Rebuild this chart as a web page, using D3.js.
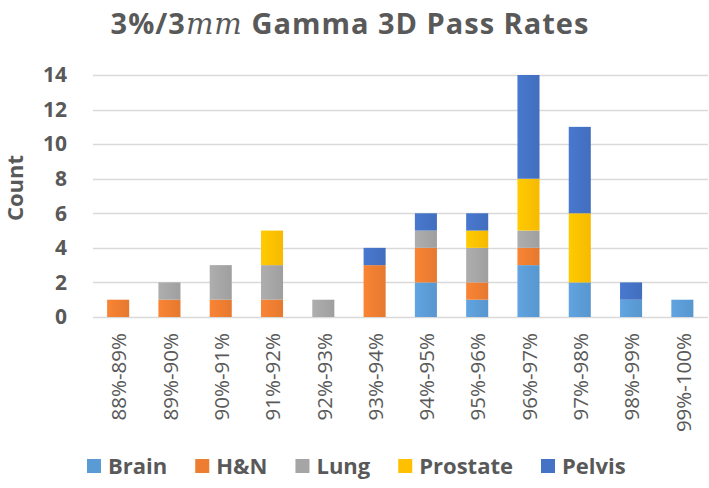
<!DOCTYPE html>
<html>
<head>
<meta charset="utf-8">
<script src="https://cdn.jsdelivr.net/npm/d3@7"></script>
<style>
  html, body { margin: 0; padding: 0; background: #fff; }
  svg { display: block; }
  text { font-family: "Open Sans", "Noto Sans", sans-serif; fill: #595959; }
</style>
</head>
<body>
<svg id="chart" width="709" height="488"></svg>
<script>
const categories = ["88%-89%","89%-90%","90%-91%","91%-92%","92%-93%","93%-94%","94%-95%","95%-96%","96%-97%","97%-98%","98%-99%","99%-100%"];
const seriesNames = ["Brain","H&N","Lung","Prostate","Pelvis"];
const brain    = [0,0,0,0,0,0,2,1,3,2,1,1];
const hn       = [1,1,1,1,0,3,2,1,1,0,0,0];
const lung     = [0,1,2,2,1,0,1,2,1,0,0,0];
const prostate = [0,0,0,2,0,0,0,1,3,4,0,0];
const pelvis   = [0,0,0,0,0,1,1,1,6,5,1,0];
const yTicks = [0,2,4,6,8,10,12,14];
const colors = ["#5B9BD5","#ED7D31","#A5A5A5","#FFC000","#4472C4"];

const seriesValues = [brain, hn, lung, prostate, pelvis];
const table = categories.map((c, i) => {
  const row = { cat: c };
  seriesNames.forEach((s, j) => row[s] = seriesValues[j][i]);
  return row;
});

const svg = d3.select("#chart");
const x = d3.scaleBand().domain(categories).range([92.5, 708]).paddingInner(0.57).paddingOuter(0.285);
const y = d3.scaleLinear().domain([0, 14]).range([317, 75]);

// gradients
const defs = svg.append("defs");
colors.forEach((c, i) => {
  const g = defs.append("linearGradient").attr("id", "g" + i).attr("x1", 0).attr("x2", 1).attr("y1", 0).attr("y2", 0);
  g.append("stop").attr("offset", "0%").attr("stop-color", d3.color(c).brighter(0.15));
  g.append("stop").attr("offset", "100%").attr("stop-color", d3.color(c).darker(0.1));
});

// title
const title = svg.append("text").attr("x", 350).attr("y", 34).attr("text-anchor", "middle")
  .style("font-size", "29px").style("font-weight", "700").style("letter-spacing", "1px");
title.append("tspan").text("3%/3");
title.append("tspan").text("mm").style("font-family", "'DejaVu Serif', serif").style("font-style", "italic").style("font-weight", "400");
title.append("tspan").text(" Gamma 3D Pass Rates");

// gridlines
svg.append("g").selectAll("line").data(yTicks).join("line")
  .attr("x1", 93).attr("x2", 708)
  .attr("y1", d => Math.round(y(d)) + 0.5).attr("y2", d => Math.round(y(d)) + 0.5)
  .attr("stroke", "#D9D9D9").attr("stroke-width", 1.5);

// y axis labels
const yAxis = d3.axisLeft(y).tickValues(yTicks).tickSize(0).tickPadding(0);
const yg = svg.append("g").attr("transform", "translate(67,0)").call(yAxis);
yg.select(".domain").remove();
yg.selectAll("text").style("font-size", "21px").style("font-weight", "700").style("fill", "#595959")
  .style("font-family", "'Open Sans', sans-serif");

// y axis title
svg.append("text").attr("transform", "translate(23,188) rotate(-90)").attr("text-anchor", "middle")
  .style("font-size", "22px").style("font-weight", "700").text("Count");

// stacked bars
const stack = d3.stack().keys(seriesNames)(table);
svg.append("g").selectAll("g").data(stack).join("g")
  .attr("fill", (d, i) => "url(#g" + i + ")")
  .selectAll("rect").data(d => d.filter(v => v[1] - v[0] > 0)).join("rect")
  .attr("x", d => x(d.data.cat))
  .attr("width", x.bandwidth())
  .attr("y", d => y(d[1]))
  .attr("height", d => y(d[0]) - y(d[1]));

// x axis labels
const xAxis = d3.axisBottom(x).tickSize(0).tickPadding(0);
const xg = svg.append("g").attr("transform", "translate(0,333)").call(xAxis);
xg.select(".domain").remove();
xg.selectAll("text").attr("transform", "rotate(-90)").attr("text-anchor", "end")
  .attr("x", 0).attr("y", 1).attr("dy", "0.35em")
  .style("font-size", "20.5px").style("fill", "#595959").style("font-family", "'Open Sans', sans-serif");

// legend
const leg = svg.append("g");
let lx = 87;
seriesNames.forEach((s, i) => {
  leg.append("rect").attr("x", lx).attr("y", 459).attr("width", 14).attr("height", 14).attr("fill", colors[i]);
  const t = leg.append("text").attr("x", lx + 21).attr("y", 466).attr("dy", "0.35em")
    .style("font-size", "22px").style("font-weight", "700").text(s);
  const w = t.node().getComputedTextLength();
  lx = lx + 21 + w + 28;
});
</script>
</body>
</html>
